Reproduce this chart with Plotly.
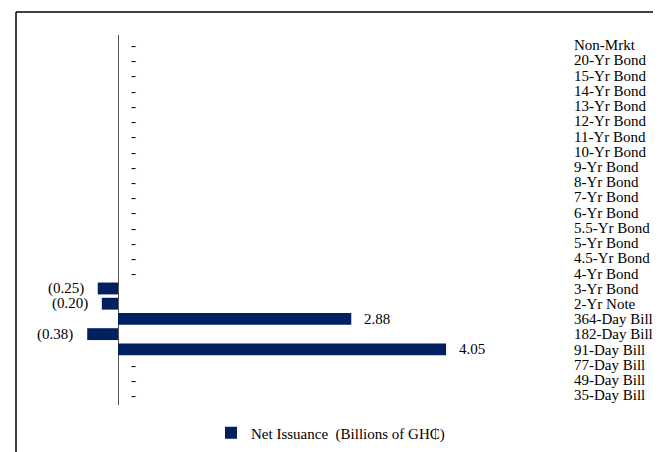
import plotly.graph_objects as go

categories = ["Non-Mrkt", "20-Yr Bond", "15-Yr Bond", "14-Yr Bond", "13-Yr Bond",
              "12-Yr Bond", "11-Yr Bond", "10-Yr Bond", "9-Yr Bond", "8-Yr Bond",
              "7-Yr Bond", "6-Yr Bond", "5.5-Yr Bond", "5-Yr Bond", "4.5-Yr Bond",
              "4-Yr Bond", "3-Yr Bond", "2-Yr Note", "364-Day Bill", "182-Day Bill",
              "91-Day Bill", "77-Day Bill", "49-Day Bill", "35-Day Bill"]
net_issuance = [0, 0, 0, 0, 0, 0, 0, 0, 0, 0, 0, 0, 0, 0, 0, 0,
                -0.25, -0.20, 2.88, -0.38, 4.05, 0, 0, 0]

# page body has an 8px margin: figure coords = window coords - 8
OFF = 8
W, H = 661 - OFF, 452 - OFF
FONT = "Liberation Serif"
FS = 15
NAVY = "#002060"

fig = go.Figure()
fig.add_trace(go.Bar(
    x=net_issuance, y=categories, orientation="h",
    marker=dict(color=NAVY, line=dict(width=0)),
    name="Net Issuance\u00a0 (Billions of GH\u20b5)",
))

def fmt(v):
    if v == 0:
        return "-"
    if v < 0:
        return "({:.2f})".format(-v)
    return "{:.2f}".format(v)

annotations = []
for c, v in zip(categories, net_issuance):
    if v < 0:
        annotations.append(dict(x=v, y=c, xref="x", yref="y", text=fmt(v),
                                showarrow=False, xanchor="right", xshift=-12,
                                font=dict(family=FONT, size=FS, color="black")))
    else:
        annotations.append(dict(x=v, y=c, xref="x", yref="y", text=fmt(v),
                                showarrow=False, xanchor="left", xshift=11,
                                font=dict(family=FONT, size=FS, color="black")))

x0_px, x1_px = 20 - OFF, 560 - OFF
zero_px, unit_px = 118 - OFF, 81.0
xr = [(x0_px - zero_px) / unit_px, (x1_px - zero_px) / unit_px]

fig.update_layout(
    width=W, height=H,
    margin=dict(l=0, r=0, t=0, b=0),
    paper_bgcolor="white", plot_bgcolor="white",
    font=dict(family=FONT, size=FS, color="black"),
    bargap=0.22,
    xaxis=dict(domain=[x0_px / W, x1_px / W], range=xr, showgrid=False,
               showticklabels=False, ticks="", zeroline=True,
               zerolinecolor="#555555", zerolinewidth=1.3, showline=False),
    yaxis=dict(domain=[1 - (405 - OFF) / H, 1 - (35 - OFF) / H], side="right",
               categoryorder="array", categoryarray=categories,
               tickmode="array", tickvals=categories, ticktext=categories,
               autorange="reversed", showgrid=False, ticks="", showline=False,
               ticklabelstandoff=13,
               tickfont=dict(family=FONT, size=FS, color="black")),
    showlegend=True,
    legend=dict(orientation="h", x=(211 - OFF) / W, xanchor="left",
                y=1 - (433 - OFF) / H, yanchor="middle",
                font=dict(family=FONT, size=FS, color="black"),
                itemwidth=30, bgcolor="rgba(0,0,0,0)"),
    annotations=annotations,
    shapes=[
        dict(type="line", xref="paper", yref="paper", x0=(16 - OFF) / W, x1=1.0,
             y0=1 - (12 - OFF) / H, y1=1 - (12 - OFF) / H,
             line=dict(color="black", width=1.5)),
        dict(type="line", xref="paper", yref="paper", x0=(16 - OFF) / W,
             x1=(16 - OFF) / W, y0=1 - (12 - OFF) / H, y1=0,
             line=dict(color="black", width=1.5)),
    ],
)

fig.write_html("out.html")
